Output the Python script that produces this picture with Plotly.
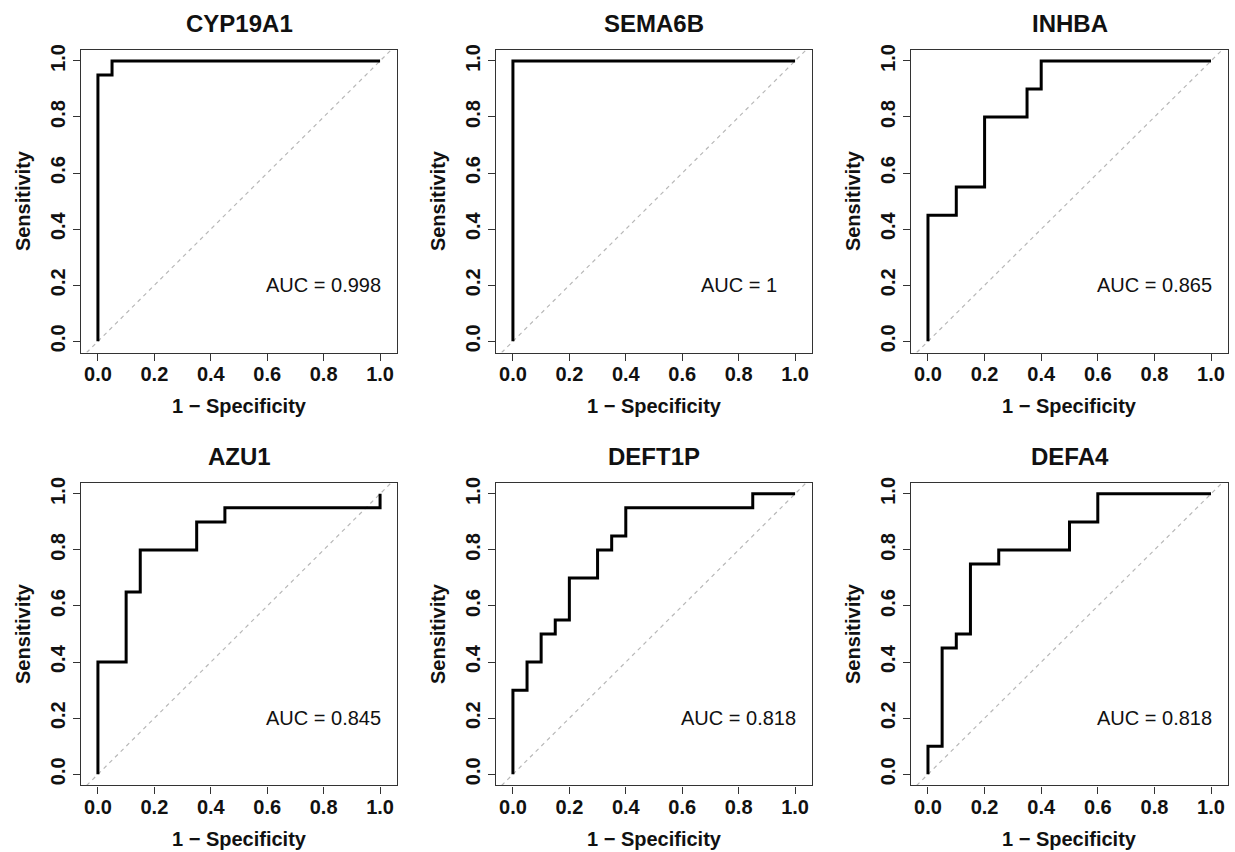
import plotly.graph_objects as go

W, H = 1235, 852

genes = ["CYP19A1", "SEMA6B", "INHBA", "AZU1", "DEFT1P", "DEFA4"]
auc_labels = ["AUC = 0.998", "AUC = 1", "AUC = 0.865", "AUC = 0.845", "AUC = 0.818", "AUC = 0.818"]

# ROC vertices: x = 1 - specificity, y = sensitivity
fpr_cyp19a1 = [0, 0, 0.05, 0.05, 1]
tpr_cyp19a1 = [0, 0.95, 0.95, 1, 1]
fpr_sema6b = [0, 0, 1]
tpr_sema6b = [0, 1, 1]
fpr_inhba = [0, 0, 0.1, 0.1, 0.2, 0.2, 0.35, 0.35, 0.4, 0.4, 1]
tpr_inhba = [0, 0.45, 0.45, 0.55, 0.55, 0.8, 0.8, 0.9, 0.9, 1, 1]
fpr_azu1 = [0, 0, 0.1, 0.1, 0.15, 0.15, 0.35, 0.35, 0.45, 0.45, 1, 1]
tpr_azu1 = [0, 0.4, 0.4, 0.65, 0.65, 0.8, 0.8, 0.9, 0.9, 0.95, 0.95, 1]
fpr_deft1p = [0, 0, 0.05, 0.05, 0.1, 0.1, 0.15, 0.15, 0.2, 0.2, 0.3, 0.3, 0.35, 0.35, 0.4, 0.4, 0.85, 0.85, 1]
tpr_deft1p = [0, 0.3, 0.3, 0.4, 0.4, 0.5, 0.5, 0.55, 0.55, 0.7, 0.7, 0.8, 0.8, 0.85, 0.85, 0.95, 0.95, 1, 1]
fpr_defa4 = [0, 0, 0.05, 0.05, 0.1, 0.1, 0.15, 0.15, 0.25, 0.25, 0.5, 0.5, 0.6, 0.6, 1]
tpr_defa4 = [0, 0.1, 0.1, 0.45, 0.45, 0.5, 0.5, 0.75, 0.75, 0.8, 0.8, 0.9, 0.9, 1, 1]

fprs = [fpr_cyp19a1, fpr_sema6b, fpr_inhba, fpr_azu1, fpr_deft1p, fpr_defa4]
tprs = [tpr_cyp19a1, tpr_sema6b, tpr_inhba, tpr_azu1, tpr_deft1p, tpr_defa4]

tick_vals = [0, 0.2, 0.4, 0.6, 0.8, 1.0]
tick_text = ["0.0", "0.2", "0.4", "0.6", "0.8", "1.0"]

x_range = [-0.06, 1.06]
y_range = [-0.04, 1.04]

# panel boxes in pixels (left, right) and (top, bottom)
cols_px = [(81, 397), (496, 812), (911, 1228)]
rows_px = [(44, 349), (480, 785)]

FONT = "Liberation Sans, Arial, Helvetica, sans-serif"

fig = go.Figure()
annotations = []
shapes = []

for i, gene in enumerate(genes):
    r, c = divmod(i, 3)
    xl, xr = cols_px[c]
    yt, yb = rows_px[r]
    xa = "x" if i == 0 else f"x{i+1}"
    ya = "y" if i == 0 else f"y{i+1}"
    xkey = "xaxis" if i == 0 else f"xaxis{i+1}"
    ykey = "yaxis" if i == 0 else f"yaxis{i+1}"

    common = dict(
        showgrid=False, zeroline=False, showline=True, mirror=True,
        linecolor="#333333", linewidth=1.2,
        ticks="outside", ticklen=7, tickwidth=1.2, tickcolor="#333333",
        tickvals=tick_vals, ticktext=tick_text,
        tickfont=dict(family=FONT, size=20, color="#111111", weight="bold"),
        fixedrange=True,
    )
    fig.update_layout({
        xkey: dict(common, domain=[xl / W, xr / W], range=x_range, anchor=ya,
                   ticklabelstandoff=-4),
        ykey: dict(common, domain=[1 - yb / H, 1 - yt / H], range=y_range, anchor=xa,
                   tickangle=-90, ticklabelstandoff=0),
    })

    # diagonal reference line (chance)
    shapes.append(dict(type="line", xref=xa, yref=ya,
                       x0=y_range[0], y0=y_range[0], x1=y_range[1], y1=y_range[1],
                       line=dict(color="#b8b8b8", width=1.2, dash="4px,4px"), layer="below"))

    fig.add_trace(go.Scatter(
        x=fprs[i], y=tprs[i], mode="lines", xaxis=xa, yaxis=ya,
        line=dict(color="black", width=3), showlegend=False, hoverinfo="skip",
    ))

    cx = (xl + xr) / 2 / W
    # title
    annotations.append(dict(text=f"<b>{gene}</b>", xref="paper", yref="paper",
                            x=cx, y=1 - (yt - 26) / H, showarrow=False,
                            xanchor="center", yanchor="middle",
                            font=dict(family=FONT, size=24, color="#111111")))
    # x axis title
    annotations.append(dict(text="<b>1 − Specificity</b>", xref="paper", yref="paper",
                            x=cx, y=1 - (yb + 54) / H, showarrow=False,
                            xanchor="center", yanchor="middle",
                            font=dict(family=FONT, size=20, color="#111111")))
    # y axis title
    cy = 1 - (yt + yb) / 2 / H
    annotations.append(dict(text="<b>Sensitivity</b>", xref="paper", yref="paper",
                            x=(xl - 58) / W, y=cy, showarrow=False, textangle=-90,
                            xanchor="center", yanchor="middle",
                            font=dict(family=FONT, size=20, color="#111111")))
    # AUC label
    annotations.append(dict(text=auc_labels[i], xref=xa, yref=ya,
                            x=0.8, y=0.2, showarrow=False,
                            xanchor="center", yanchor="middle",
                            font=dict(family=FONT, size=20, color="#111111")))

fig.update_layout(
    width=W, height=H,
    margin=dict(l=0, r=0, t=0, b=0),
    paper_bgcolor="white", plot_bgcolor="white",
    annotations=annotations, shapes=shapes,
    showlegend=False,
)

fig.write_html(
    "out.html",
    config={"displayModeBar": False},
    post_script="document.body.style.margin='0';document.body.style.overflow='hidden';",
)
